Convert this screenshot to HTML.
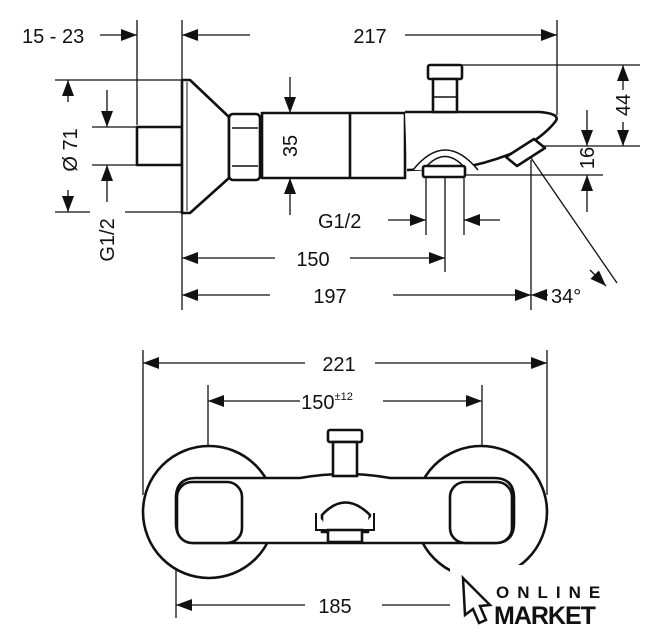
<!DOCTYPE html>
<html><head><style>html,body{margin:0;padding:0;background:#fff}svg{display:block}text{font-family:"Liberation Sans",sans-serif;fill:#111}</style></head>
<body>
<svg width="660" height="640" viewBox="0 0 660 640" xmlns="http://www.w3.org/2000/svg">
<defs>
<marker id="a" markerUnits="userSpaceOnUse" markerWidth="18" markerHeight="14" refX="16" refY="6" orient="auto"><path d="M0,0 L16,6 L0,12 z" fill="#111"/></marker>
</defs>
<g stroke="#111" stroke-width="1.3" fill="none">
<!-- top view extension lines -->
<line x1="137" y1="20" x2="137" y2="125"/>
<line x1="182" y1="20" x2="182" y2="310"/>
<line x1="557" y1="20" x2="557" y2="115"/>
<line x1="100" y1="35" x2="137" y2="35" marker-end="url(#a)"/>
<line x1="250" y1="35" x2="182" y2="35" marker-end="url(#a)"/>
<line x1="405" y1="35" x2="557" y2="35" marker-end="url(#a)"/>
<!-- Ø71 -->
<line x1="55" y1="80" x2="182" y2="80"/>
<line x1="55" y1="212" x2="90" y2="212"/><line x1="125" y1="212" x2="182" y2="212"/>
<line x1="68" y1="102" x2="68" y2="80" marker-end="url(#a)"/>
<line x1="68" y1="190" x2="68" y2="212" marker-end="url(#a)"/>
<!-- G1/2 left -->
<line x1="92" y1="127" x2="136" y2="127"/><line x1="92" y1="165" x2="136" y2="165"/>
<line x1="107" y1="90" x2="107" y2="127" marker-end="url(#a)"/>
<line x1="107" y1="202" x2="107" y2="165" marker-end="url(#a)"/>
<!-- 35 -->
<line x1="290" y1="77" x2="290" y2="113" marker-end="url(#a)"/>
<line x1="290" y1="215" x2="290" y2="178" marker-end="url(#a)"/>
<line x1="308" y1="146" x2="640" y2="146"/>
<!-- 44 -->
<line x1="462" y1="65" x2="640" y2="65"/>
<line x1="623" y1="90" x2="623" y2="65" marker-end="url(#a)"/>
<line x1="623" y1="122" x2="623" y2="146" marker-end="url(#a)"/>
<!-- 16 -->
<line x1="466" y1="175" x2="603" y2="175"/>
<line x1="587" y1="110" x2="587" y2="146" marker-end="url(#a)"/>
<line x1="587" y1="212" x2="587" y2="175" marker-end="url(#a)"/>
<!-- G1/2 bottom -->
<line x1="426" y1="178" x2="426" y2="235"/><line x1="445" y1="178" x2="445" y2="272"/><line x1="464" y1="178" x2="464" y2="235"/>
<line x1="388" y1="220" x2="426" y2="220" marker-end="url(#a)"/>
<line x1="500" y1="220" x2="464" y2="220" marker-end="url(#a)"/>
<!-- 150 -->
<line x1="275" y1="258" x2="182" y2="258" marker-end="url(#a)"/>
<line x1="350" y1="258" x2="445" y2="258" marker-end="url(#a)"/>
<!-- 197 -->
<line x1="270" y1="295" x2="182" y2="295" marker-end="url(#a)"/>
<line x1="393" y1="295" x2="531" y2="295" marker-end="url(#a)"/>
<line x1="531" y1="160" x2="531" y2="310"/>
<line x1="548" y1="295" x2="531" y2="295" marker-end="url(#a)"/>
<line x1="531" y1="158" x2="617" y2="283"/>
<line x1="590" y1="270" x2="606" y2="286" marker-end="url(#a)"/>
</g>
<!-- top view body -->
<g stroke="#111" stroke-width="2.6" fill="#fff" stroke-linejoin="round">
<rect x="137" y="127" width="45" height="38"/>
<path d="M182,80 L190,80 L229,117 L229,178 L190,213 L182,213 Z"/>
<line x1="187" y1="82" x2="187" y2="211" stroke-width="1"/>
<rect x="229" y="114" width="31" height="66" rx="4"/>
<line x1="232" y1="128" x2="258" y2="128" stroke-width="1.5"/><line x1="232" y1="166" x2="258" y2="166" stroke-width="1.5"/>
<path d="M262,113 L405,113 L405,178 L262,178 Z"/>
<line x1="350" y1="113" x2="350" y2="178"/>
<path d="M405,112 L540,112 Q562,114 555,122 Q545,135 520,150 Q490,163 460,168 L407,170"/>
<rect x="428" y="65" width="34" height="14" rx="2"/>
<rect x="433" y="79" width="24" height="33"/>
<line x1="433" y1="97" x2="457" y2="97" stroke-width="1.5"/>
<path d="M413,170 Q445,130 478,170" stroke-width="1.5"/>
<path d="M425,168 Q445,145 465,168" stroke-width="1.5"/>
<rect x="423" y="166" width="42" height="11" rx="2"/>
<path d="M506,157 L534,139 L545,148 L517,166 Z"/>
</g>
<g font-size="20">
<text x="22" y="43">15 - 23</text>
<text x="370" y="43" text-anchor="middle">217</text>
<text x="318" y="228">G1/2</text>
<text x="313" y="266" text-anchor="middle">150</text>
<text x="330" y="303" text-anchor="middle">197</text>
<text x="551" y="303">34°</text>
<text transform="translate(77,150) rotate(-90)" text-anchor="middle">Ø 71</text>
<text transform="translate(114,240) rotate(-90)" text-anchor="middle">G1/2</text>
<text transform="translate(297,146) rotate(-90)" text-anchor="middle">35</text>
<text transform="translate(630,105) rotate(-90)" text-anchor="middle">44</text>
<text transform="translate(594,158) rotate(-90)" text-anchor="middle">16</text>
<text x="339" y="371" text-anchor="middle">221</text>
<text x="327" y="409" text-anchor="middle">150<tspan font-size="11" dy="-9">±12</tspan></text>
<text x="335" y="613" text-anchor="middle">185</text>
</g>
<!-- bottom view dims -->
<g stroke="#111" stroke-width="1.3" fill="none">
<line x1="143" y1="350" x2="143" y2="495"/><line x1="547" y1="350" x2="547" y2="495"/>
<line x1="305" y1="363" x2="143" y2="363" marker-end="url(#a)"/>
<line x1="375" y1="363" x2="547" y2="363" marker-end="url(#a)"/>
<line x1="208" y1="385" x2="208" y2="445"/><line x1="482" y1="385" x2="482" y2="445"/>
<line x1="300" y1="401" x2="208" y2="401" marker-end="url(#a)"/>
<line x1="383" y1="401" x2="482" y2="401" marker-end="url(#a)"/>
<line x1="176" y1="545" x2="176" y2="618"/>
<line x1="305" y1="605" x2="176" y2="605" marker-end="url(#a)"/>
<line x1="382" y1="605" x2="450" y2="605"/>
</g>
<g stroke="#111" stroke-width="2.6" fill="#fff">
<circle cx="209" cy="512" r="66"/>
<circle cx="481" cy="512" r="66"/>
<path d="M196,478 L300,478 Q345,470 390,478 L494,478 Q514,478 514,498 L514,523 Q514,543 494,543 L196,543 Q176,543 176,523 L176,498 Q176,478 196,478 Z"/>
<rect x="177" y="482" width="65" height="61" rx="15"/>
<rect x="450" y="482" width="62" height="61" rx="15"/>
<rect x="328" y="430" width="34" height="12" rx="2"/>
<rect x="333" y="442" width="24" height="34"/>
<path d="M322,515 Q345,490 370,515 L368,532 L322,532 Z"/>
<path d="M316,513 L316,530 L330,530 M374,513 L374,530 L360,530" stroke-width="2"/>
<rect x="328" y="530" width="34" height="12"/>
</g>
<!-- logo -->
<rect x="450" y="565" width="210" height="75" fill="#fff"/>
<path d="M463,578 L490,605 L480,606 L486,620 L479,623 L473,609 L465,615 Z" fill="#fff" stroke="#111" stroke-width="2.5"/>
<text x="496" y="598" font-size="17" font-weight="bold" letter-spacing="8">ONLINE</text>
<text x="494" y="624" font-size="25" font-weight="bold" letter-spacing="-1">MARKET</text>
</svg>
</body></html>
